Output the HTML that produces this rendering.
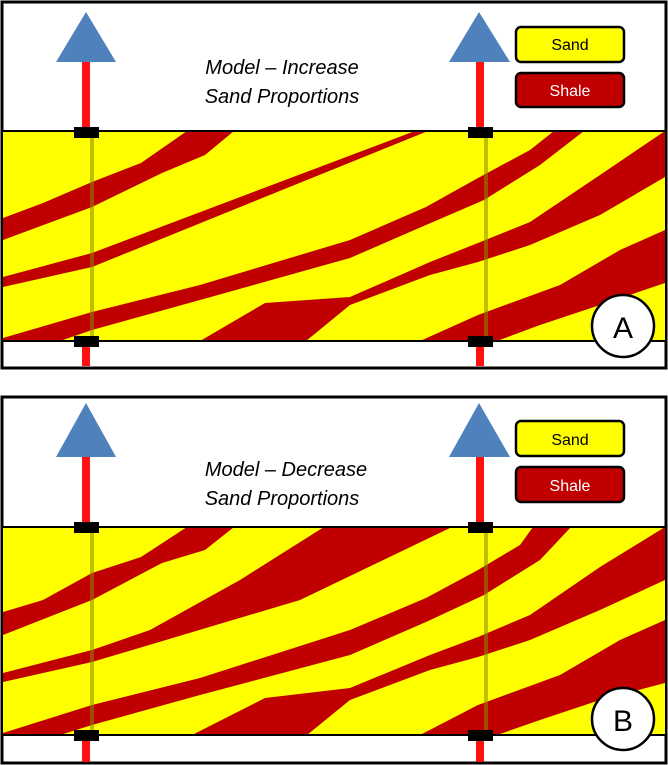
<!DOCTYPE html>
<html><head><meta charset="utf-8"><style>
html,body{margin:0;padding:0;background:#fff;}
svg{display:block;}
text{font-family:"Liberation Sans",sans-serif;}
</style></head><body>
<svg width="668" height="765" viewBox="0 0 668 765" xmlns="http://www.w3.org/2000/svg">
<defs>
<g id="well">
  <rect x="-4" y="0" width="8" height="1" fill="#ff1010"/>
</g>
</defs>

<!-- PANEL A -->
<rect x="2" y="2" width="664" height="366" fill="#fff" stroke="#000" stroke-width="3"/>
<rect x="3" y="131" width="662" height="210" fill="#ffff00"/>
<g fill="#c00000">
  <polygon points="187,131 141,163 92,182 43,203 3,218 3,240 92,207 162,173 205,155 234,131"/>
  <polygon points="415,131 92,253 3,277 3,287 92,267 428,131"/>
  <polygon points="3,341 3,338 92,312 200,285 350,240 426,207 478,178 530,150 554,131 584,131 540,165 484,200 426,225 350,258 200,300 92,330 60,341"/>
  <polygon points="200,341 265,303 350,297 430,262 478,243 530,222 600,175 665,131 665,177 600,215 530,245 478,262 430,275 350,305 306,341"/>
  <polygon points="420,341 478,315 560,285 620,250 665,230 665,283 600,305 540,325 497,341"/>
</g>
<line x1="3" y1="131" x2="665" y2="131" stroke="#000" stroke-width="2"/>
<line x1="3" y1="341" x2="665" y2="341" stroke="#000" stroke-width="2"/>
<!-- wells A -->
<g>
  <rect x="82" y="60" width="8" height="72" fill="#ff1010"/>
  <rect x="82" y="341" width="8" height="25" fill="#ff1010"/>
  <rect x="90" y="137" width="4" height="199" fill="#8a8a00" opacity="0.55"/>
  <polygon points="56,62 86,12 116,62" fill="#4f81bd"/>
  <rect x="74" y="127" width="25" height="11" fill="#000"/>
  <rect x="74" y="336" width="25" height="11" fill="#000"/>
  <rect x="476" y="60" width="8" height="72" fill="#ff1010"/>
  <rect x="476" y="341" width="8" height="25" fill="#ff1010"/>
  <rect x="484" y="137" width="4" height="199" fill="#8a8a00" opacity="0.55"/>
  <polygon points="449,62 479,12 510,62" fill="#4f81bd"/>
  <rect x="468" y="127" width="25" height="11" fill="#000"/>
  <rect x="468" y="336" width="25" height="11" fill="#000"/>
</g>
<text x="282" y="74" font-size="20" font-style="italic" text-anchor="middle">Model – Increase</text>
<text x="282" y="103" font-size="20" font-style="italic" text-anchor="middle">Sand Proportions</text>
<rect x="516" y="27" width="108" height="35" rx="5" fill="#ffff00" stroke="#000" stroke-width="2.5"/>
<text x="570" y="50" font-size="16" text-anchor="middle">Sand</text>
<rect x="516" y="73" width="108" height="34" rx="5" fill="#c00000" stroke="#000" stroke-width="2.5"/>
<text x="570" y="96" font-size="16" text-anchor="middle" fill="#fff">Shale</text>
<ellipse cx="623" cy="326" rx="31" ry="31" fill="#fff" stroke="#000" stroke-width="2.5"/>
<text x="623" y="338" font-size="30" text-anchor="middle">A</text>

<!-- PANEL B -->
<rect x="2" y="397" width="664" height="366" fill="#fff" stroke="#000" stroke-width="3"/>
<rect x="3" y="527" width="662" height="208" fill="#ffff00"/>
<g fill="#c00000">
  <polygon points="187,527 141,557 92,573 43,600 3,612 3,635 92,600 162,563 205,550 234,527"/>
  <polygon points="324,527 240,580 150,630 92,650 3,673 3,682 92,662 300,600 452,527"/>
  <polygon points="3,735 3,733 92,705 200,678 350,630 426,598 478,570 520,545 533,527 571,527 540,560 484,595 426,622 350,655 200,695 92,725 60,735"/>
  <polygon points="192,735 265,698 350,688 430,655 478,637 530,615 600,567 665,527 665,580 600,610 530,640 478,657 430,670 350,700 307,735"/>
  <polygon points="420,735 478,705 560,675 620,640 665,620 665,683 600,700 540,720 497,735"/>
</g>
<line x1="3" y1="527" x2="665" y2="527" stroke="#000" stroke-width="2"/>
<line x1="3" y1="735" x2="665" y2="735" stroke="#000" stroke-width="2"/>
<g>
  <rect x="82" y="455" width="8" height="73" fill="#ff1010"/>
  <rect x="82" y="735" width="8" height="27" fill="#ff1010"/>
  <rect x="90" y="533" width="4" height="197" fill="#8a8a00" opacity="0.55"/>
  <polygon points="56,457 86,403 116,457" fill="#4f81bd"/>
  <rect x="74" y="522" width="25" height="11" fill="#000"/>
  <rect x="74" y="730" width="25" height="11" fill="#000"/>
  <rect x="476" y="455" width="8" height="73" fill="#ff1010"/>
  <rect x="476" y="735" width="8" height="27" fill="#ff1010"/>
  <rect x="484" y="533" width="4" height="197" fill="#8a8a00" opacity="0.55"/>
  <polygon points="449,457 479,403 510,457" fill="#4f81bd"/>
  <rect x="468" y="522" width="25" height="11" fill="#000"/>
  <rect x="468" y="730" width="25" height="11" fill="#000"/>
</g>
<text x="286" y="476" font-size="20" font-style="italic" text-anchor="middle">Model – Decrease</text>
<text x="282" y="505" font-size="20" font-style="italic" text-anchor="middle">Sand Proportions</text>
<rect x="516" y="421" width="108" height="35" rx="5" fill="#ffff00" stroke="#000" stroke-width="2.5"/>
<text x="570" y="445" font-size="16" text-anchor="middle">Sand</text>
<rect x="516" y="467" width="108" height="35" rx="5" fill="#c00000" stroke="#000" stroke-width="2.5"/>
<text x="570" y="491" font-size="16" text-anchor="middle" fill="#fff">Shale</text>
<ellipse cx="623" cy="719" rx="31" ry="31" fill="#fff" stroke="#000" stroke-width="2.5"/>
<text x="623" y="731" font-size="30" text-anchor="middle">B</text>
</svg>
</body></html>
